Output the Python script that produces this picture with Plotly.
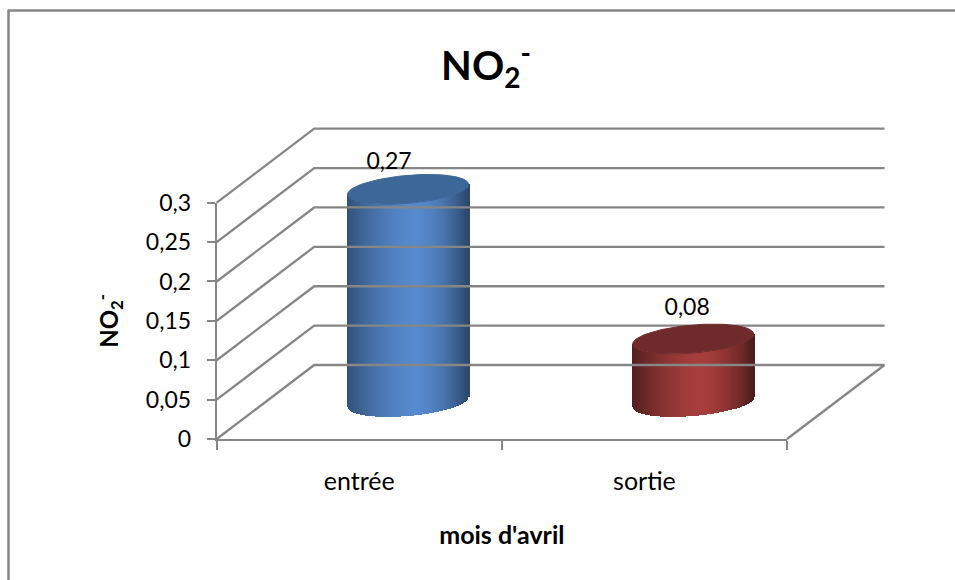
import numpy as np
import plotly.graph_objects as go

# ---- data ----
categories = ["entrée", "sortie"]
values = [0.27, 0.08]
value_labels = ["0,27", "0,08"]
y_ticks = [0, 0.05, 0.1, 0.15, 0.2, 0.25, 0.3]
y_tick_labels = ["0", "0,05", "0,1", "0,15", "0,2", "0,25", "0,3"]
title_text = "<b>NO<sub>2</sub><sup>-</sup></b>"
y_title = "<b>NO<sub>2</sub><sup>-</sup></b>"
x_title = "<b>mois d'avril</b>"

# ---- styling / geometry ----
W, H = 955, 580
L, R, T, B = 216.7, 787.0, 202.7, 439.0
GRID = "#868686"
LINE_W = 2.3
FONT = "Lato"
PX_X = (R - L) / 2.0        # px per category
PX_Y = (B - T) / 0.3        # px per value unit
DEPTH_X = 97.5 / PX_X       # oblique depth in data units
DEPTH_Y = 74.0 / PX_Y
RX = 60.5 / PX_X            # cylinder half width
TILT = 5.0 / PX_Y           # ellipse tilt
RY = 14.0 / PX_Y            # ellipse half height
N = 121                     # vertical slats per cylinder


def mix(a, b, t):
    return tuple(a[i] + (b[i] - a[i]) * t for i in range(3))


def rgb(c):
    return "rgb(%d,%d,%d)" % tuple(round(v) for v in c)


def shade(u, edge_l, centre, edge_r):
    """u in [-1,1] across the cylinder; highlight slightly right of centre."""
    c0 = 0.12
    if u < c0:
        t = (c0 - u) / (c0 + 1)
        return rgb(mix(centre, edge_l, t ** 1.6))
    t = (u - c0) / (1 - c0)
    return rgb(mix(centre, edge_r, t ** 1.8))


palette = [
    dict(l=(50, 82, 122), c=(86, 137, 205), r=(44, 72, 108), top="#3d6796", label=(-19, 26.5)),
    dict(l=(82, 30, 30), c=(166, 62, 60), r=(74, 28, 28), top="#6f2b2b", label=(-6, 29.5)),
]

fig = go.Figure()

# the walls and cylinders live on a full-page pair of axes that shares the
# scale of the real axes, so nothing is clipped at the plot rectangle
WALL = dict(xaxis="x2", yaxis="y2", hoverinfo="skip", showlegend=False)

for v in y_ticks:
    fig.add_trace(go.Scatter(
        x=[-0.5, -0.5 + DEPTH_X, 1.5 + DEPTH_X],
        y=[v, v + DEPTH_Y, v + DEPTH_Y],
        mode="lines", line=dict(color=GRID, width=LINE_W), **WALL,
    ))
fig.add_trace(go.Scatter(
    x=[1.5, 1.5 + DEPTH_X], y=[0, DEPTH_Y],
    mode="lines", line=dict(color=GRID, width=LINE_W), **WALL,
))

for i, (val, p) in enumerate(zip(values, palette)):
    cx = i + DEPTH_X / 2
    base = DEPTH_Y / 2
    us = np.linspace(-1, 1, N)
    xs = cx + RX * us
    t = np.arccos(np.clip(us, -1, 1))
    bottom = base + TILT * np.cos(t) - RY * np.sin(t)
    rim_top = base + val + TILT * np.cos(t) - RY * np.sin(t)
    fig.add_trace(go.Bar(
        x=xs, base=bottom, y=rim_top - bottom,
        width=2 * RX / (N - 1) * 1.05,
        marker=dict(color=[shade(u, p["l"], p["c"], p["r"]) for u in us], line=dict(width=0)),
        **WALL,
    ))
    a = np.linspace(0, 2 * np.pi, 120)
    fig.add_trace(go.Scatter(
        x=cx + RX * np.cos(a),
        y=base + val + TILT * np.cos(a) + RY * np.sin(a),
        mode="lines", fill="toself", fillcolor=p["top"],
        line=dict(color=p["top"], width=1), **WALL,
    ))
    fig.add_trace(go.Scatter(
        x=[cx + p["label"][0] / PX_X],
        y=[base + val + p["label"][1] / PX_Y],
        text=[value_labels[i]], mode="text", textposition="middle center",
        textfont=dict(family=FONT, size=23, color="#000000"),
        **WALL,
    ))

# real axes: need a trace each to be drawn
fig.add_trace(go.Scatter(x=[0, 1], y=[0, 0], mode="none", hoverinfo="skip", showlegend=False))
fig.add_trace(go.Scatter(x=[0, 1], y=[0, 0], xaxis="x3", mode="none",
                         hoverinfo="skip", showlegend=False))

fig.update_layout(
    width=W, height=H, autosize=False,
    margin=dict(l=0, r=0, t=0, b=0, pad=0),
    paper_bgcolor="white", plot_bgcolor="rgba(0,0,0,0)",
    barmode="overlay", bargap=0,
    font=dict(family=FONT, color="#000000"),
    title=dict(text=title_text, x=486 / W, xanchor="center", y=1 - 66 / H,
               yanchor="middle", font=dict(family=FONT, size=40, color="#000000")),
    xaxis=dict(
        domain=[L / W, R / W], anchor="y", automargin=False,
        range=[-0.5, 1.5], tickmode="array", tickvals=[-0.5, 0.5, 1.5],
        showticklabels=False,
        ticks="outside", ticklen=9, tickwidth=2, tickcolor=GRID,
        showline=True, linecolor=GRID, linewidth=2, showgrid=False, zeroline=False,
        title=dict(text=x_title, standoff=77, font=dict(family=FONT, size=25, color="#000000")),
    ),
    yaxis=dict(
        domain=[1 - B / H, 1 - T / H], anchor="x", automargin=False,
        range=[0, 0.3], tickmode="array", tickvals=y_ticks, ticktext=y_tick_labels,
        ticks="outside", ticklen=8, tickwidth=2, tickcolor=GRID, ticklabelstandoff=11,
        showline=True, linecolor=GRID, linewidth=2, showgrid=False, zeroline=False,
        tickfont=dict(family=FONT, size=23, color="#000000"),
        title=dict(text=y_title, standoff=20, font=dict(family=FONT, size=24, color="#000000")),
    ),
    xaxis3=dict(
        overlaying="x", side="bottom", anchor="y", automargin=False,
        range=[-0.5, 1.5], tickmode="array", tickvals=[0, 1], ticktext=categories,
        ticks="outside", ticklen=20, tickwidth=1, tickcolor="rgba(0,0,0,0)",
        showgrid=False, zeroline=False, showline=False,
        tickfont=dict(family=FONT, size=25, color="#000000"),
    ),
    xaxis2=dict(
        domain=[0, 1], anchor="y2", visible=False, automargin=False,
        range=[-0.5 - L / PX_X, -0.5 + (W - L) / PX_X],
    ),
    yaxis2=dict(
        domain=[0, 1], anchor="x2", visible=False, automargin=False,
        range=[(B - H) / PX_Y, B / PX_Y],
    ),
    shapes=[
        dict(type="line", xref="paper", yref="paper", layer="below",
             x0=8.5 / W, x1=8.5 / W, y0=1 - 10.5 / H, y1=0,
             line=dict(color=GRID, width=2.5)),
        dict(type="line", xref="paper", yref="paper", layer="below",
             x0=7.5 / W, x1=1, y0=1 - 10.5 / H, y1=1 - 10.5 / H,
             line=dict(color=GRID, width=2.5)),
    ],
)

fig.write_html("out.html", config={"displayModeBar": False},
               post_script="document.body.style.margin='0';document.body.style.overflow='hidden';")
